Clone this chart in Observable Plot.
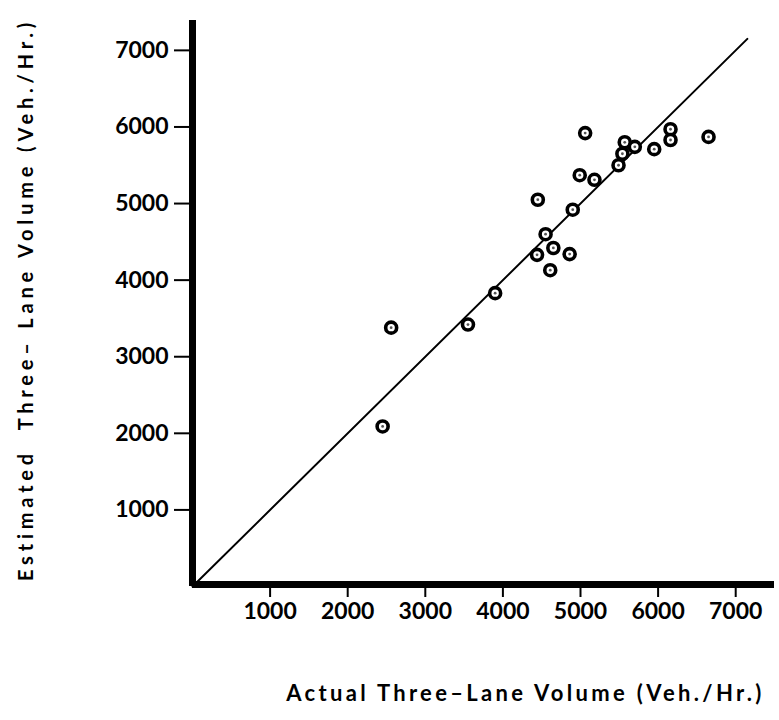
<!DOCTYPE html>
<html>
<head>
<meta charset="utf-8">
<script src="https://cdn.jsdelivr.net/npm/d3@7"></script>
<script src="https://cdn.jsdelivr.net/npm/@observablehq/plot@0.6"></script>
<style>
  body { margin: 0; background: #fff; }
  #chart svg { display: block; }
</style>
</head>
<body>
<div id="chart"></div>
<script>
// Actual three-lane volume (veh/hr)
const actualVolume = [5060, 5570, 5700, 5540, 5490, 6160, 6160, 5950, 6650, 4990, 5180,
                      4450, 4900, 4550, 4650, 4440, 4860, 4610, 3900, 3550, 2560, 2450];
// Estimated three-lane volume (veh/hr)
const estimatedVolume = [5920, 5800, 5740, 5650, 5500, 5970, 5830, 5710, 5870, 5370, 5310,
                         5050, 4920, 4600, 4420, 4330, 4340, 4130, 3830, 3420, 3380, 2090];
// line of equality endpoints (actual = estimated)
const equalityLine = [0, 7150];
const xTicks = [1000, 2000, 3000, 4000, 5000, 6000, 7000];
const yTicks = [1000, 2000, 3000, 4000, 5000, 6000, 7000];
const xLabel = "Actual Three–Lane Volume (Veh./Hr.)";
const yLabel = "Estimated  Three– Lane Volume (Veh./Hr.)";

const points = actualVolume.map((a, i) => ({actual: a, estimated: estimatedVolume[i]}));
const lineData = equalityLine.map(v => ({actual: v, estimated: v}));

const svg = Plot.plot({
  width: 779,
  height: 720,
  marginLeft: 192,
  marginRight: 5,
  marginTop: 20,
  marginBottom: 134,
  style: {fontFamily: "Lato, 'DejaVu Sans', sans-serif", fontSize: "23px", fontWeight: "bold", color: "#000", background: "#fff"},
  x: {domain: [0, 7500]},
  y: {domain: [0, 7390]},
  marks: [
    Plot.axisX({ticks: xTicks, tickSize: 11, tickPadding: 5, strokeWidth: 2, label: null, fontSize: 23, tickFormat: d => String(d)}),
    Plot.axisY({ticks: yTicks, tickSize: 18, tickPadding: 6, strokeWidth: 2, label: null, fontSize: 23, tickFormat: d => String(d)}),
    Plot.line(lineData, {x: "actual", y: "estimated", stroke: "#000", strokeWidth: 2}),
    Plot.ruleX([0], {stroke: "#000", strokeWidth: 7}),
    Plot.ruleY([0], {stroke: "#000", strokeWidth: 7, dy: -2}),
    Plot.dot(points, {x: "actual", y: "estimated", r: 5.5, stroke: "#000", strokeWidth: 3.6, fill: "#fff"}),
    Plot.dot(points, {x: "actual", y: "estimated", r: 1.4, fill: "#555", stroke: "none"}),
    Plot.text([xLabel], {frameAnchor: "bottom-right", dx: -10, dy: 114, textAnchor: "end", fontSize: 22, fontWeight: "bold", fill: "#000"}),
    Plot.text([yLabel], {frameAnchor: "left", dx: -166, dy: -4, rotate: -90, textAnchor: "middle", fontSize: 20, fontWeight: "bold", fill: "#000"})
  ]
});

d3.select(svg).selectAll("text")
  .filter(function() { return this.textContent === xLabel; })
  .attr("letter-spacing", "3.3px").style("white-space", "pre");
d3.select(svg).selectAll("text")
  .filter(function() { return this.textContent === yLabel; })
  .attr("letter-spacing", "4.8px").style("white-space", "pre");

document.getElementById("chart").appendChild(svg);
</script>
</body>
</html>
